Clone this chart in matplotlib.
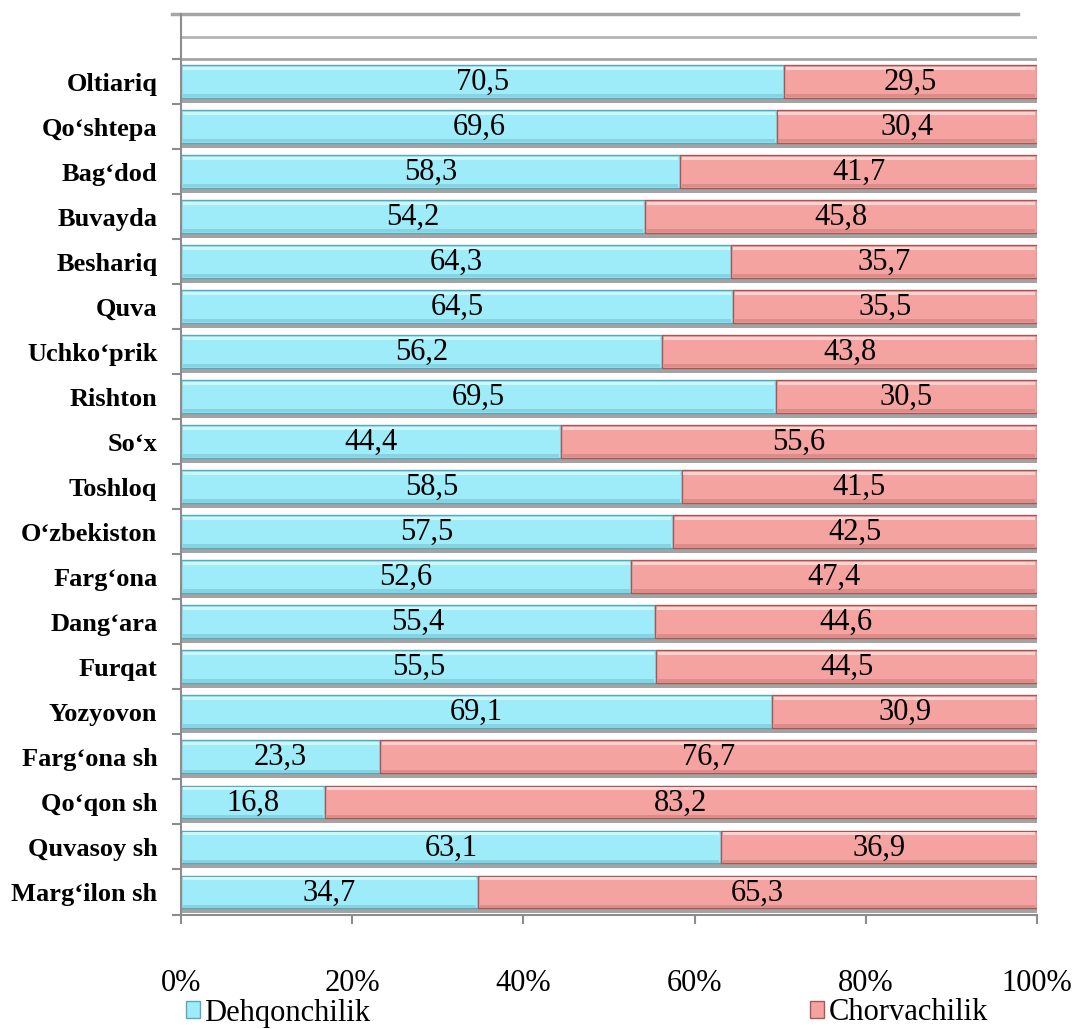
import numpy as np
import matplotlib.pyplot as plt
from matplotlib.patches import Patch

plt.rcParams['font.family'] = ['Liberation Serif', 'DejaVu Serif']

# --- data (top to bottom as in the chart) ---
districts = ["Oltiariq", "Qo‘shtepa", "Bag‘dod", "Buvayda", "Beshariq", "Quva",
             "Uchko‘prik", "Rishton", "So‘x", "Toshloq", "O‘zbekiston", "Farg‘ona",
             "Dang‘ara", "Furqat", "Yozyovon", "Farg‘ona sh", "Qo‘qon sh",
             "Quvasoy sh", "Marg‘ilon sh"]
dehqonchilik = [70.5, 69.6, 58.3, 54.2, 64.3, 64.5, 56.2, 69.5, 44.4, 58.5,
                57.5, 52.6, 55.4, 55.5, 69.1, 23.3, 16.8, 63.1, 34.7]
chorvachilik = [29.5, 30.4, 41.7, 45.8, 35.7, 35.5, 43.8, 30.5, 55.6, 41.5,
                42.5, 47.4, 44.6, 44.5, 30.9, 76.7, 83.2, 36.9, 65.3]
x_ticks = [0, 20, 40, 60, 80, 100]

blue, blue_edge, blue_hi, blue_lo = '#9eebf9', '#5aa6bb', '#cdf7ff', '#86d3e2'
red, red_edge, red_hi, red_lo = '#f4a3a0', '#a35a57', '#fdd3d1', '#dc8c89'
grey = '#8c8c8c'

n = len(districts)
y = np.arange(n)[::-1]          # Oltiariq at the top
h = 0.73

fig = plt.figure(figsize=(10.72, 10.29), dpi=100)
ax = fig.add_axes([181/1072, 1 - 914.5/1029, (1037 - 181)/1072, (914.5 - 14)/1029])

d = np.array(dehqonchilik)
c = np.array(chorvachilik)

# shadow under each bar
ax.barh(y - 0.11, d + c, height=h, color='#a3a3a3', edgecolor='none', zorder=1)
# main segments
ax.barh(y, d, height=h, color=blue, edgecolor=blue_edge, linewidth=1, zorder=2)
ax.barh(y, c, left=d, height=h, color=red, edgecolor=red_edge, linewidth=1, zorder=2)
# bevel: light stripe at the top, darker stripe at the bottom
ax.barh(y + h/2 - 0.07, d - 0.4, left=0.2, height=0.07, color=blue_hi, edgecolor='none', zorder=3)
ax.barh(y + h/2 - 0.07, c - 0.4, left=d + 0.2, height=0.07, color=red_hi, edgecolor='none', zorder=3)
ax.barh(y - h/2 + 0.05, d - 0.4, left=0.2, height=0.07, color=blue_lo, edgecolor='none', zorder=3)
ax.barh(y - h/2 + 0.05, c - 0.4, left=d + 0.2, height=0.07, color=red_lo, edgecolor='none', zorder=3)

for yi, a, b in zip(y, d, c):
    ax.text(a / 2, yi - 0.02, f"{a:.1f}".replace('.', ','), ha='center', va='center',
            fontsize=22, zorder=4)
    ax.text(a + b / 2, yi - 0.02, f"{b:.1f}".replace('.', ','), ha='center', va='center',
            fontsize=22, zorder=4)

ax.set_xlim(0, 100)
ax.set_ylim(-0.5, n + 0.5)

# empty slot lines at the top
ax.axhline(n - 0.5, color='#a6a6a6', lw=2, zorder=0)
ax.axhline(n, color='#b4b4b4', lw=2, zorder=0)
ax.axhline(n + 0.5, xmin=-0.0105, xmax=0.978, color='#a6a6a6', lw=2.5, clip_on=False)

ax.set_xticks(x_ticks)
ax.set_xticklabels([f"{t}%" for t in x_ticks], fontsize=22)
ax.set_yticks(y)
ax.set_yticklabels(districts, fontsize=19, fontweight='bold')
ax.set_yticks(np.arange(-0.5, n, 1.0), minor=True)

ax.tick_params(axis='y', which='major', length=0, pad=17)
ax.tick_params(axis='y', which='minor', length=6.5, width=1.5, color=grey, direction='out')
ax.tick_params(axis='x', length=6.5, width=1.5, color=grey, direction='out', pad=33)

for s in ['top', 'right']:
    ax.spines[s].set_visible(False)
for s in ['left', 'bottom']:
    ax.spines[s].set_color(grey)
    ax.spines[s].set_linewidth(1.5)

handles = [Patch(facecolor=blue, edgecolor=blue_edge), Patch(facecolor=red, edgecolor=red_edge)]
fig.legend(handles, ["Dehqonchilik", "Chorvachilik"], loc='center left',
           bbox_to_anchor=(186/1072, 1 - 1013/1029), ncol=2, frameon=False,
           fontsize=22, handlelength=0.45, handleheight=0.45, handletextpad=0.15,
           columnspacing=14.4, borderpad=0, borderaxespad=0)

fig.savefig('out.png', dpi=100)
